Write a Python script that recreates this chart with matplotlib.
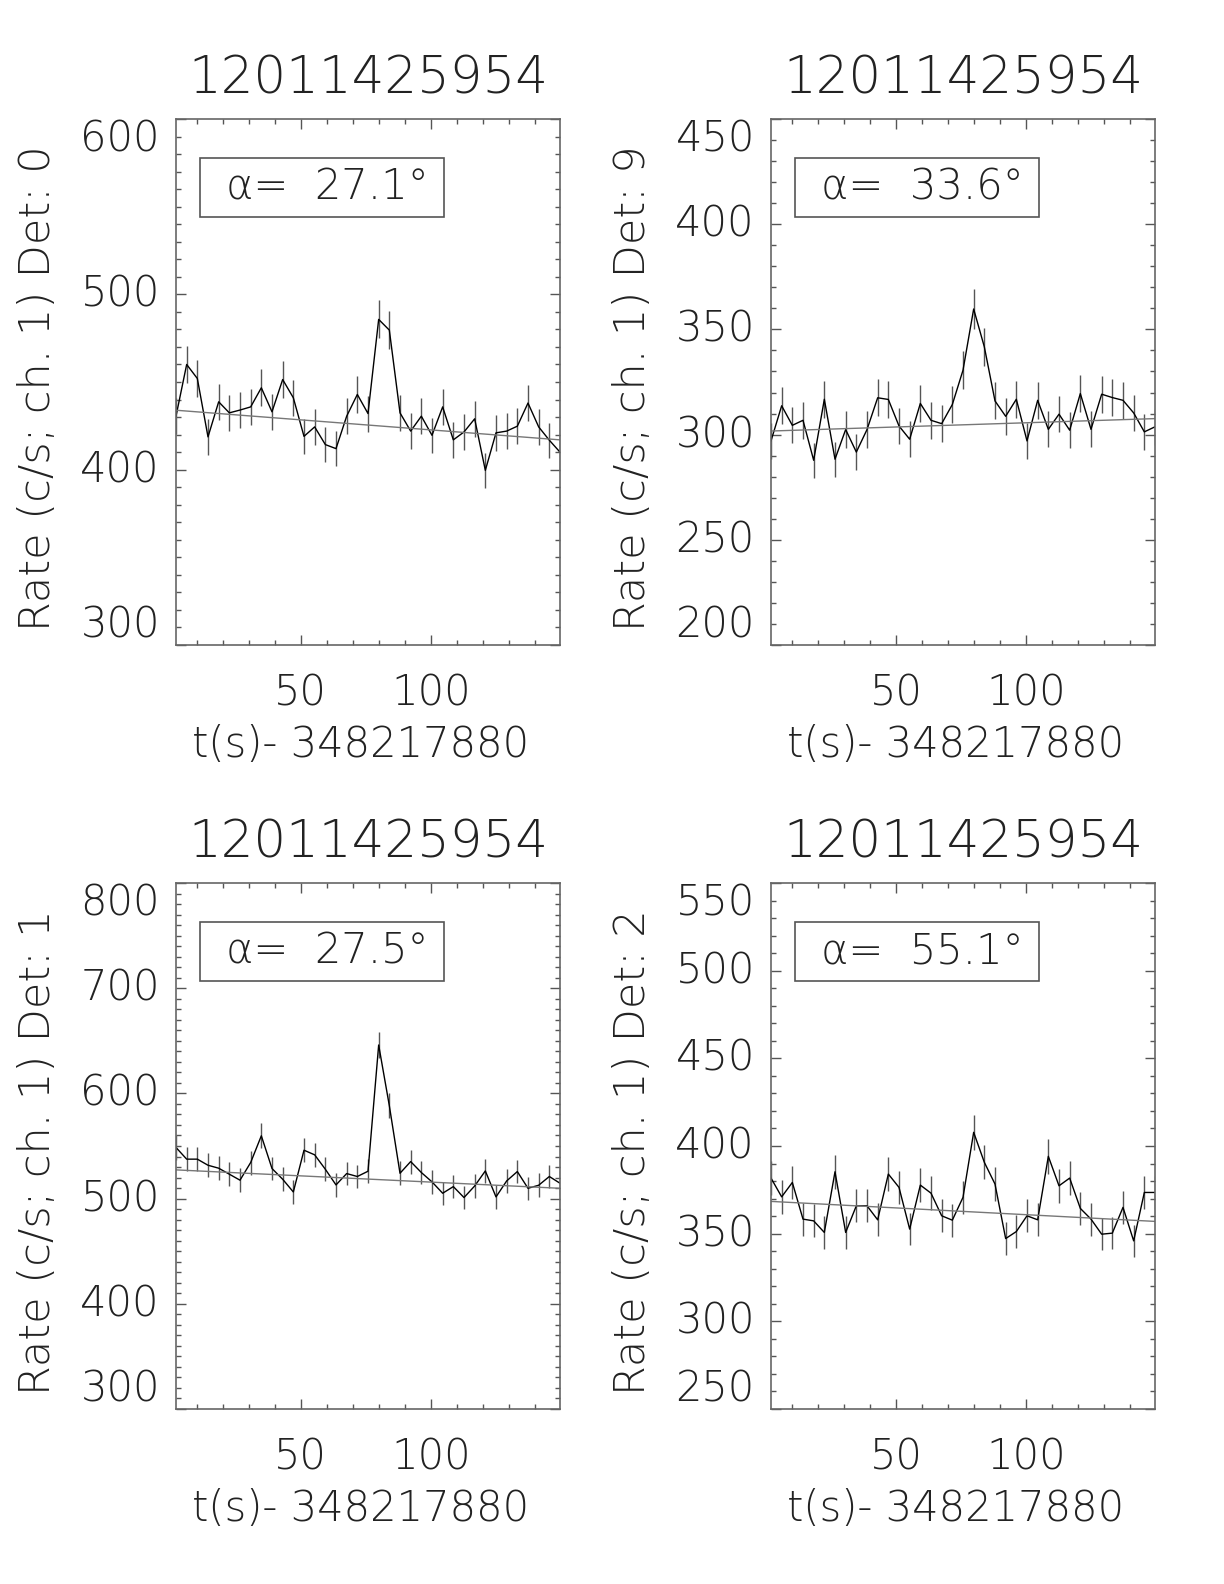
import numpy as np
import matplotlib
matplotlib.use('Agg')
import matplotlib.pyplot as plt
import matplotlib.transforms as mtransforms
from matplotlib.patches import Rectangle
from matplotlib.ticker import MultipleLocator

plt.rcParams['font.family'] = ['DejaVu Sans']
plt.rcParams['font.weight'] = 200
plt.rcParams['axes.labelweight'] = 200

# light curve, 4.096 s bins, t in s minus 348217880
dt = 4.096
t = 2.048 + dt * np.arange(37)

rate_det0 = [430.5, 460.0, 452.0, 418.7, 438.7, 432.4, 434.0, 435.8, 446.7, 433.0,
             451.4, 441.0, 419.0, 424.4, 414.3, 412.0, 430.5, 442.9, 432.0, 485.7,
             479.6, 432.4, 422.0, 430.5, 419.6, 435.8, 417.0, 421.5, 429.0, 399.6,
             421.0, 422.0, 424.8, 438.0, 424.4, 416.8, 410.0]
rate_det9 = [297.0, 313.7, 304.4, 306.8, 287.8, 316.8, 288.3, 302.4, 291.7, 302.4,
             317.5, 316.7, 304.1, 297.8, 314.8, 306.8, 305.2, 314.3, 330.6, 359.7,
             341.7, 316.0, 308.7, 316.8, 297.0, 316.3, 302.5, 309.7, 302.1, 319.5,
             302.5, 319.2, 317.6, 316.3, 310.3, 301.3, 303.7]
rate_det1 = [548.6, 537.5, 537.5, 531.7, 528.9, 523.2, 517.5, 534.3, 559.7, 528.6,
             518.4, 506.3, 546.0, 541.6, 527.9, 513.0, 523.8, 521.0, 526.0, 646.0,
             588.3, 524.1, 535.2, 524.8, 515.9, 505.1, 511.4, 501.0, 512.0, 526.3,
             501.6, 516.8, 525.7, 509.8, 512.7, 521.0, 514.6]
rate_det2 = [381.7, 371.0, 379.2, 358.3, 357.3, 350.7, 385.3, 350.7, 365.9, 365.9,
             357.9, 384.0, 376.4, 352.6, 377.7, 373.1, 360.2, 357.7, 370.7, 407.8,
             390.7, 378.3, 347.2, 351.2, 360.2, 357.9, 394.1, 377.3, 381.7, 364.4,
             358.3, 349.7, 350.3, 365.0, 345.9, 373.5, 373.5]

# background fit (value at first and last bin)
fit_det0 = [433.9, 417.0]
fit_det9 = [301.7, 307.6]
fit_det1 = [527.3, 509.8]
fit_det2 = [368.4, 357.0]

dets = ['0', '9', '1', '2']
alphas = ['27.1', '33.6', '27.5', '55.1']
rates = [rate_det0, rate_det9, rate_det1, rate_det2]
fits = [fit_det0, fit_det9, fit_det1, fit_det2]
ylims = [(300, 600), (200, 450), (300, 800), (250, 550)]
ymajor = [100, 50, 100, 50]

W, H = 1224., 1584.
boxes = [(176, 119), (771, 119), (176, 883), (771, 883)]  # left, top in px
aw, ah = 384., 526.

fig = plt.figure(figsize=(12.24, 15.84), dpi=100)
tc = '#222222'
fs = 30

for k in range(4):
    l, tp = boxes[k]
    ax = fig.add_axes([l / W, 1 - (tp + ah) / H, aw / W, ah / H])
    r = np.array(rates[k])
    err = np.sqrt(r * dt) / dt   # poisson errors
    ax.errorbar(t, r, yerr=err, fmt='none', ecolor='#555555', elinewidth=1.0)
    ax.plot(t, r, color='black', lw=1.0)
    ax.plot([t[0], t[-1]], fits[k], color='#777777', lw=1.0)

    ax.set_xlim(t[0], t[-1])
    ax.set_ylim(*ylims[k])
    ax.xaxis.set_major_locator(MultipleLocator(50))
    ax.xaxis.set_minor_locator(MultipleLocator(10))
    ax.yaxis.set_major_locator(MultipleLocator(ymajor[k]))
    ax.yaxis.set_minor_locator(MultipleLocator(10))
    ax.tick_params(which='both', direction='in', top=True, right=True,
                   colors='#555555', labelcolor=tc, labelsize=fs, width=1)
    ax.tick_params(which='major', length=7)
    ax.tick_params(which='minor', length=3.6)
    ax.tick_params(axis='x', pad=20)
    ax.tick_params(axis='y', labelleft=False)
    for s in ax.spines.values():
        s.set_color('#666666')
        s.set_linewidth(1.2)

    # y tick labels, end labels kept inside the axis span
    lo, hi = ylims[k]
    yt = [v for v in ax.get_yticks() if lo <= v <= hi]
    trans = mtransforms.blended_transform_factory(ax.transAxes, ax.transData)
    for v in yt:
        va = 'center'
        if v == hi:
            va = 'top'
        elif v == lo:
            va = 'bottom'
        ax.text(-0.042, v, '%d' % v, transform=trans, ha='right', va=va,
                fontsize=fs, color=tc)

    ax.set_ylabel('Rate (c/s; ch. 1) Det: ' + dets[k], fontsize=31, color=tc,
                  va='center')
    ax.yaxis.set_label_coords(-0.36, 0.488)
    ax.set_xlabel('t(s)- 348217880', fontsize=fs, color=tc, va='center')
    ax.xaxis.set_label_coords(0.48, -0.19)
    ax.text(0.5, 1.076, '12011425954', transform=ax.transAxes, ha='center',
            va='center', fontsize=37, color=tc)

    ax.add_patch(Rectangle((0.0625, 0.814), 0.6355, 0.112, transform=ax.transAxes,
                           fill=False, ec='#555555', lw=1.2))
    ax.text(0.395, 0.87, 'α=  ' + alphas[k] + '°', transform=ax.transAxes,
            ha='center', va='center', fontsize=fs, color=tc)

fig.savefig('out.png', dpi=100)
